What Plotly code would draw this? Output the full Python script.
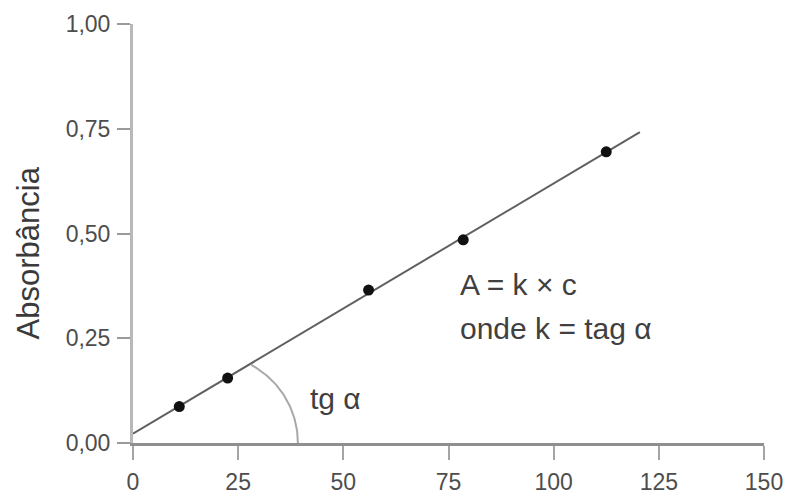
import numpy as np
import plotly.graph_objects as go

# Calibration data: concentration vs. absorbance
concentracao = [11, 22.5, 56, 78.5, 112.5]
absorbancia = [0.087, 0.155, 0.365, 0.485, 0.695]

x_ticks = [0, 25, 50, 75, 100, 125, 150]
x_tick_text = ["0", "25", "50", "75", "100", "125", "150"]
y_ticks = [0.0, 0.25, 0.5, 0.75, 1.0]
y_tick_text = ["0,00", "0,25", "0,50", "0,75", "1,00"]

# Extent of the fitted line
fit_x = np.array([0.0, 120.5])

FONT = "Liberation Sans, Arial, sans-serif"
TEXT = "#404040"

# Least-squares line through the calibration points
k, b = np.polyfit(concentracao, absorbancia, 1)
fit_y = k * fit_x + b

fig = go.Figure()

fig.add_trace(go.Scatter(
    x=fit_x, y=fit_y, mode="lines",
    line=dict(color="#606060", width=2),
    hoverinfo="skip", showlegend=False,
))

# Angle arc drawn between the x axis and the fitted line
arc_cx = 18.0
arc_rx = 21.2
arc_ry = 0.212
theta = np.linspace(0, np.radians(61.5), 60)
fig.add_trace(go.Scatter(
    x=arc_cx + arc_rx * np.cos(theta), y=arc_ry * np.sin(theta),
    mode="lines", line=dict(color="#a8a8a8", width=2),
    hoverinfo="skip", showlegend=False,
))

fig.add_trace(go.Scatter(
    x=concentracao, y=absorbancia, mode="markers",
    marker=dict(color="#111111", size=11, symbol="circle"),
    showlegend=False,
))

fig.add_annotation(x=77.2, y=0.379, xref="x", yref="y", text="A = k × c",
                   showarrow=False, xanchor="left", yanchor="middle",
                   font=dict(family=FONT, size=30, color=TEXT))
fig.add_annotation(x=77.2, y=0.274, xref="x", yref="y", text="onde k = tag α",
                   showarrow=False, xanchor="left", yanchor="middle",
                   font=dict(family=FONT, size=30, color=TEXT))
fig.add_annotation(x=41.5, y=0.107, xref="x", yref="y", text="tg α",
                   showarrow=False, xanchor="left", yanchor="middle",
                   font=dict(family=FONT, size=30, color=TEXT))

# Vertical axis title
fig.add_annotation(x=-0.166, y=0.453, xref="paper", yref="paper",
                   text="Absorbância", textangle=-90, showarrow=False,
                   xanchor="center", yanchor="middle",
                   font=dict(family=FONT, size=31, color="#3a3a3a"))

fig.update_layout(
    width=787, height=497,
    margin=dict(l=133, r=23, t=24, b=54),
    paper_bgcolor="white", plot_bgcolor="white",
    font=dict(family=FONT, color=TEXT),
    xaxis=dict(
        range=[0, 150], tickvals=x_ticks, ticktext=x_tick_text,
        showgrid=False, zeroline=False, automargin=False,
        showline=True, linecolor="#8f8f8f", linewidth=3,
        ticks="outside", ticklen=14, tickwidth=2, tickcolor="#a5a5a5",
        tickfont=dict(family=FONT, size=23, color="#4d4d4d"),
        ticklabelstandoff=2,
    ),
    yaxis=dict(
        range=[0, 1], tickvals=y_ticks, ticktext=y_tick_text,
        showgrid=False, zeroline=False, automargin=False,
        showline=True, linecolor="#b8b8b8", linewidth=3,
        ticks="outside", ticklen=13, tickwidth=2, tickcolor="#9a9a9a",
        tickfont=dict(family=FONT, size=23, color="#4d4d4d"),
        ticklabelstandoff=2,
    ),
)

fig.write_html("out.html")
